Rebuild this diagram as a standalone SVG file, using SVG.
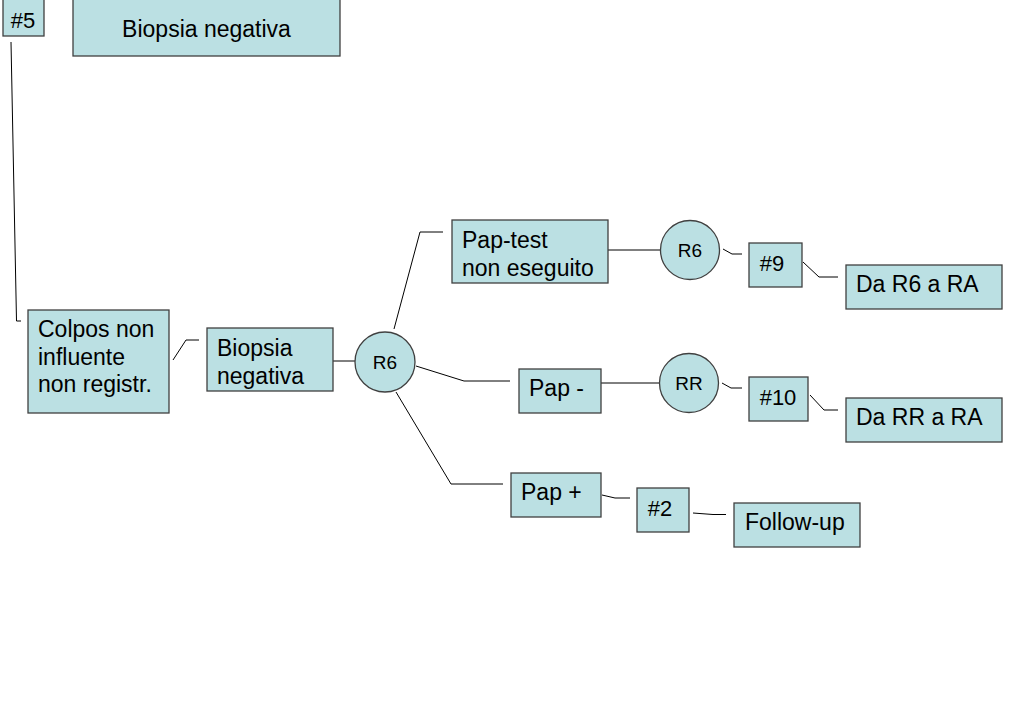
<svg xmlns="http://www.w3.org/2000/svg" width="1023" height="708" viewBox="0 0 1023 708">
<style>
.box{fill:#bbe0e3;stroke:#404040;stroke-width:1.3}
.t{font-family:"Liberation Sans",Arial,sans-serif;font-size:23px;fill:#000}
.s{font-family:"Liberation Sans",Arial,sans-serif;font-size:22px;fill:#000;text-anchor:middle}
.c{font-family:"Liberation Sans",Arial,sans-serif;font-size:19px;fill:#000;text-anchor:middle}
.m{text-anchor:middle}
.ln{fill:none;stroke:#000;stroke-width:1}
</style>
<rect width="1023" height="708" fill="#fff"/>
<g id="connectors">
<path class="ln" d="M11,42 L16.5,321 L21,321"/>
<path class="ln" d="M173,360 L186,340 L199,340"/>
<path class="ln" d="M333,361 L355,361"/>
<path class="ln" d="M394,329 L420,232 L443,232"/>
<path class="ln" d="M416,366 L464,381 L510,381"/>
<path class="ln" d="M396,392 L451,484 L503,484"/>
<path class="ln" d="M608,250 L660,250"/>
<path class="ln" d="M601,383 L660,383"/>
<path class="ln" d="M723,249 L732,254 L742,254"/>
<path class="ln" d="M803,262 L819,277 L838,277"/>
<path class="ln" d="M722,383 L731,388 L742,388"/>
<path class="ln" d="M810,395 L824,410 L838,410"/>
<path class="ln" d="M602,495 L615,498 L630,498"/>
<path class="ln" d="M693,513 L713,514.5 L726,514.5"/>
</g>
<g id="n5">
<rect class="box" x="3" y="-1" width="41" height="37"/>
<text class="s" x="23" y="28">#5</text>
</g>
<g id="biopsia-top">
<rect class="box" x="73" y="-1" width="267" height="57"/>
<text class="t m" x="206.5" y="37">Biopsia negativa</text>
</g>
<g id="colpos">
<rect class="box" x="28" y="310" width="141" height="103"/>
<text class="t" x="38" y="337">Colpos non</text>
<text class="t" x="38" y="364.5">influente</text>
<text class="t" x="38" y="392">non registr.</text>
</g>
<g id="biopsia">
<rect class="box" x="207" y="328" width="126" height="63"/>
<text class="t" x="217" y="356">Biopsia</text>
<text class="t" x="217" y="384">negativa</text>
</g>
<g id="r6a">
<circle class="box" cx="385" cy="362" r="30"/>
<text class="c" x="385" y="369">R6</text>
</g>
<g id="paptest">
<rect class="box" x="452" y="220" width="156" height="63"/>
<text class="t" x="462" y="248">Pap-test</text>
<text class="t" x="462" y="276">non eseguito</text>
</g>
<g id="papneg">
<rect class="box" x="519" y="369" width="82" height="44"/>
<text class="t" x="529" y="396">Pap -</text>
</g>
<g id="pappos">
<rect class="box" x="511" y="473" width="90" height="44"/>
<text class="t" x="521" y="500">Pap +</text>
</g>
<g id="r6b">
<circle class="box" cx="690" cy="250" r="29.5"/>
<text class="c" x="690" y="257">R6</text>
</g>
<g id="rr">
<circle class="box" cx="689" cy="383" r="29.5"/>
<text class="c" x="689" y="390">RR</text>
</g>
<g id="n9">
<rect class="box" x="749" y="243" width="53" height="44"/>
<text class="s" x="772" y="271">#9</text>
</g>
<g id="n10">
<rect class="box" x="749" y="377" width="59" height="44"/>
<text class="s" x="778" y="405">#10</text>
</g>
<g id="n2">
<rect class="box" x="637" y="488" width="52" height="44"/>
<text class="s" x="660" y="516">#2</text>
</g>
<g id="dar6">
<rect class="box" x="846" y="265" width="156" height="44"/>
<text class="t" x="856" y="292">Da R6 a RA</text>
</g>
<g id="darr">
<rect class="box" x="846" y="398" width="156" height="44"/>
<text class="t" x="856" y="425">Da RR a RA</text>
</g>
<g id="followup">
<rect class="box" x="734" y="503" width="126" height="44"/>
<text class="t" x="745" y="530">Follow-up</text>
</g>
</svg>
